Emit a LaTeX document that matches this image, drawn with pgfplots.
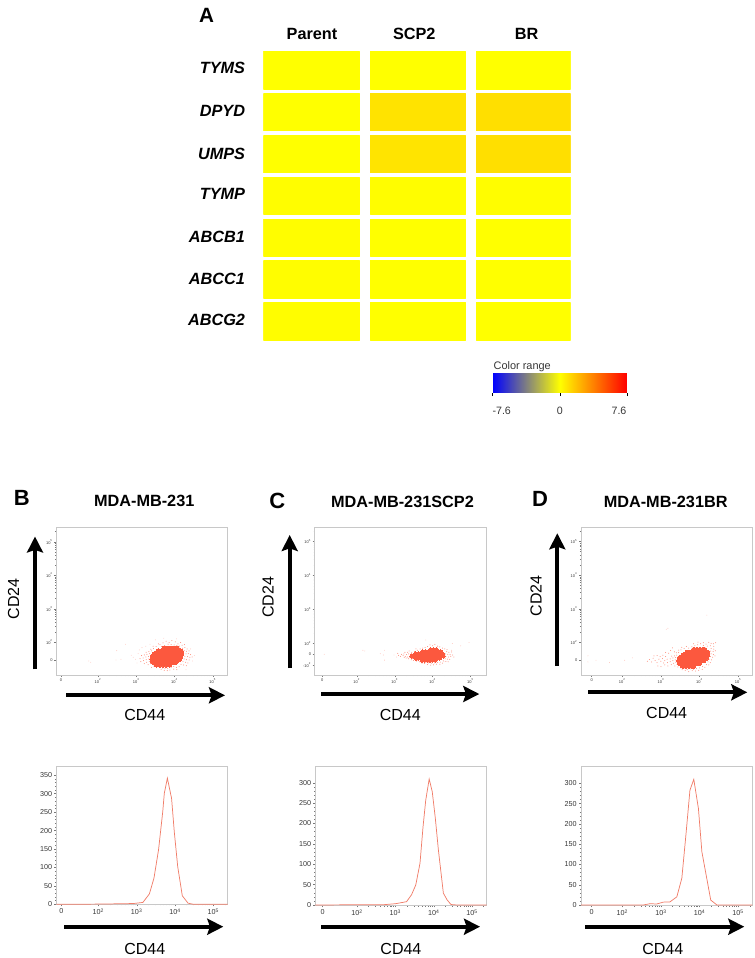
\documentclass[border=0pt]{standalone}
\usepackage{fontspec}
\setmainfont{Liberation Sans}
\usepackage{pgfplots}
\pgfplotsset{compat=1.18}
\usetikzlibrary{arrows.meta}

\definecolor{boxgray}{RGB}{200,200,200}
\definecolor{tickgray}{RGB}{120,120,120}
\definecolor{labgray}{RGB}{55,55,55}
\definecolor{cloud}{RGB}{252,88,62}
\definecolor{histline}{RGB}{240,125,105}

% reference pixels -> pt (1 px = 0.75 pt), y downwards
\tikzset{letter/.style 2 args={at={({#1*0.75pt},{-#2*0.75pt})},font=\bfseries\fontsize{16.5}{18}\selectfont}}
\newcommand\bigarrow[4]{\draw[line width=2.9pt,-{Stealth[length=12pt,width=12pt,inset=2pt]}] ({#1*0.75pt},{-#2*0.75pt}) -- ({#3*0.75pt},{-#4*0.75pt});}

\pgfplotsset{
  pxat/.style 2 args={at={({#1*0.75pt},{-#2*0.75pt})}},
  every axis title shift=0pt,
  panel/.style={
    scale only axis, anchor=north west,
    axis line style={draw=boxgray,line width=0.6pt},
    tick style={draw=tickgray,line width=0.25pt},
    tick align=outside, tick pos=lower,
    major tick length=1.5pt, minor tick length=0.9pt,
    title style={font=\bfseries\fontsize{12.2}{14}\selectfont,anchor=center},
    label style={font=\fontsize{12}{14}\selectfont},
    minor xtick={2.3,2.48,2.6,2.7,2.78,2.85,2.9,2.95,3.3,3.48,3.6,3.7,3.78,3.85,3.9,3.95,4.3,4.48,4.6,4.7,4.78,4.85,4.9,4.95,5.3},
    xtick={1,2,3,4,5},
    /pgf/number format/assume math mode=true,
  },
  dotplot/.style={
    panel, width=128.55pt, height=110.8pt,
    tick label style={font=\fontsize{3}{3}\selectfont,text=labgray,inner sep=1pt},
    minor ytick={2.3,2.48,2.6,2.7,2.78,2.85,2.9,2.95,3.3,3.48,3.6,3.7,3.78,3.85,3.9,3.95,4.3,4.48,4.6,4.7,4.78,4.85,4.9,4.95,5.3},
    xticklabels={0,10\textsuperscript{2},10\textsuperscript{3},10\textsuperscript{4},10\textsuperscript{5}},
    xlabel={CD44}, ylabel={CD24},
  },
  histplot/.style={
    panel, width=128.55pt,
    tick label style={font=\fontsize{5.4}{6}\selectfont,text=labgray,inner sep=1.5pt},
    ytick={0,50,...,350}, minor y tick num=4,
    xticklabels={0,10\textsuperscript{2},10\textsuperscript{3},10\textsuperscript{4},10\textsuperscript{5}},
    xlabel={CD44},
  },
  core/.style={cloud,only marks,mark=*,mark size=1.8pt,mark options={line width=0pt}},
  halo/.style={cloud,only marks,mark=*,mark size=0.38pt,mark options={line width=0pt,fill opacity=0.7,draw opacity=0}},
  stray/.style={cloud,only marks,mark=*,mark size=0.32pt,mark options={line width=0pt,fill opacity=0.4,draw opacity=0}},
  curve/.style={histline,line width=0.55pt,no marks},
}

\begin{document}
\begin{tikzpicture}
\path[use as bounding box] (0,0) rectangle (566.25pt,-718.5pt);

% ---- A: heat map
\node[letter={206.7}{15},font=\bfseries\fontsize{15.5}{17}\selectfont] {A};
\begin{axis}[
  scale only axis, anchor=north west, pxat={263.3}{51},
  width=230.55pt, height=216.75pt,
  xmin=263.3, xmax=570.7, ymin=51, ymax=340, y dir=reverse,
  axis line style={draw=none}, major tick length=0pt,
  xtick={312,414.3,526.7}, xticklabels={Parent,SCP2,BR},
  ytick={68.3,111,154.3,194,237.3,278.7,320.3},
  yticklabels={TYMS,DPYD,UMPS,TYMP,ABCB1,ABCC1,ABCG2},
  xticklabel pos=upper,
  xticklabel style={font=\bfseries\fontsize{12.2}{14}\selectfont,inner sep=0pt,text height=8.8pt,text depth=0pt,yshift=8.6pt},
  yticklabel style={font=\bfseries\itshape\fontsize{12.2}{14}\selectfont,inner sep=0pt,xshift=-13.5pt},
  point meta min=-7.6, point meta max=7.6,
  colormap={range}{rgb255=(0,0,255) rgb255=(128,128,128) rgb255=(255,255,0) rgb255=(255,128,0) rgb255=(255,0,0)},
  colorbar horizontal,
  colorbar style={
    scale only axis, at={(0.7463,-0.1142)}, anchor=north west,
    width=100.7pt, height=14.8pt,
    xtick={-7.6,0,7.6},
    xticklabels={\hspace*{13.5pt}-7.6,0,7.6\hspace*{12pt}},
    axis line style={draw=none},
    xtick style={draw=black,line width=0.5pt}, major tick length=2.6pt,
    tick align=outside, tick pos=lower,
    xticklabel style={font=\fontsize{8}{9}\selectfont,text=labgray,inner sep=0pt,yshift=-8pt},
    title={Color range},
    title style={at={(0,1)},anchor=south west,inner sep=0.5pt,font=\fontsize{8.2}{9}\selectfont,text=labgray},
  },
]
\addplot[patch,patch type=rectangle,shader=flat,point meta=explicit] table[meta=v] {
x y v
263.3 51 0
359 51 0
359 89.3 0
263.3 89.3 0
370 51 0
465.3 51 0
465.3 89.3 0
370 89.3 0
476 51 0
570.7 51 0
570.7 89.3 0
476 89.3 0
263.3 93.7 0
359 93.7 0
359 130.7 0
263.3 130.7 0
370 93.7 0.85
465.3 93.7 0.85
465.3 130.7 0.85
370 130.7 0.85
476 93.7 0.95
570.7 93.7 0.95
570.7 130.7 0.95
476 130.7 0.95
263.3 135.7 0
359 135.7 0
359 172.7 0
263.3 172.7 0
370 135.7 0.8
465.3 135.7 0.8
465.3 172.7 0.8
370 172.7 0.8
476 135.7 0.95
570.7 135.7 0.95
570.7 172.7 0.95
476 172.7 0.95
263.3 177.3 0.05
359 177.3 0.05
359 214 0.05
263.3 214 0.05
370 177.3 0.05
465.3 177.3 0.05
465.3 214 0.05
370 214 0.05
476 177.3 0.05
570.7 177.3 0.05
570.7 214 0.05
476 214 0.05
263.3 219.3 0.05
359 219.3 0.05
359 256 0.05
263.3 256 0.05
370 219.3 0
465.3 219.3 0
465.3 256 0
370 256 0
476 219.3 0
570.7 219.3 0
570.7 256 0
476 256 0
263.3 260.7 0.05
359 260.7 0.05
359 298.3 0.05
263.3 298.3 0.05
370 260.7 0
465.3 260.7 0
465.3 298.3 0
370 298.3 0
476 260.7 0
570.7 260.7 0
570.7 298.3 0
476 298.3 0
263.3 302.7 0.05
359 302.7 0.05
359 340 0.05
263.3 340 0.05
370 302.7 0
465.3 302.7 0
465.3 340 0
370 340 0
476 302.7 0
570.7 302.7 0
570.7 340 0
476 340 0
};
\end{axis}

% ---- B: dot plot
\node[letter={21.7}{498.3}] {B};
\begin{axis}[dotplot, pxat={56.3}{527.3},
  xmin=0.91, xmax=5.39, ymin=1.02, ymax=5.43,
  xtick={1.03,2,3,4,5},
  ytick={1.46,2,3,4,5}, yticklabels={0,10\textsuperscript{2},10\textsuperscript{3},10\textsuperscript{4},10\textsuperscript{5}},
  title={MDA-MB-231}, title style={at={(0.513,1.176)}},
  xlabel style={at={(axis description cs:0.516,-0.271)},anchor=center},
  ylabel style={at={(axis description cs:-0.2485,0.515)},anchor=center},
]
\addplot[core] coordinates {
(3.73,1.81)(3.82,1.81)(3.90,1.81)(3.98,1.81)(4.07,1.81)
(3.57,1.73)(3.66,1.73)(3.75,1.73)(3.84,1.73)(3.93,1.73)(4.02,1.73)(4.11,1.73)(4.16,1.73)
(3.48,1.65)(3.57,1.65)(3.66,1.65)(3.75,1.65)(3.84,1.65)(3.93,1.65)(4.02,1.65)(4.11,1.65)(4.18,1.65)
(3.43,1.57)(3.52,1.57)(3.61,1.57)(3.70,1.57)(3.79,1.57)(3.88,1.57)(3.97,1.57)(4.06,1.57)(4.15,1.57)
(3.42,1.49)(3.51,1.49)(3.60,1.49)(3.69,1.49)(3.78,1.49)(3.87,1.49)(3.96,1.49)(4.05,1.49)(4.12,1.49)
(3.44,1.41)(3.53,1.41)(3.62,1.41)(3.71,1.41)(3.80,1.41)(3.89,1.41)(3.98,1.41)(4.03,1.41)
(3.53,1.33)(3.62,1.33)(3.70,1.33)(3.78,1.33)(3.87,1.33)
};
\addplot[halo] coordinates {
(3.62,1.93)(3.70,1.98)(3.78,2.03)(3.86,1.99)(3.93,2.05)(4.02,2.01)(4.09,1.95)(4.16,1.99)(3.66,1.87)(3.74,1.90)(3.83,1.94)(3.91,1.93)(3.99,1.92)(4.06,1.90)(4.13,1.88)(4.20,1.91)(4.26,1.93)
(4.21,1.82)(4.27,1.84)(4.33,1.80)(4.25,1.75)(4.31,1.73)(4.38,1.74)(4.24,1.67)(4.30,1.65)(4.36,1.66)(4.42,1.63)(4.27,1.58)(4.34,1.57)(4.40,1.55)(4.46,1.56)(4.25,1.50)(4.31,1.48)(4.38,1.47)(4.22,1.42)(4.29,1.40)(4.35,1.38)(4.17,1.34)(4.24,1.32)(4.31,1.30)
(3.98,1.28)(4.05,1.25)(4.12,1.27)(3.91,1.24)(3.98,1.20)(4.06,1.18)(3.82,1.22)(3.88,1.17)(3.75,1.21)(3.81,1.15)(3.68,1.23)(3.73,1.16)(3.60,1.26)(3.65,1.19)(3.53,1.24)(3.46,1.29)(3.40,1.25)
(3.37,1.36)(3.31,1.33)(3.34,1.43)(3.27,1.40)(3.21,1.36)(3.33,1.50)(3.26,1.48)(3.19,1.45)(3.12,1.42)(3.32,1.58)(3.25,1.56)(3.18,1.53)(3.10,1.51)(3.35,1.66)(3.28,1.64)(3.21,1.62)(3.14,1.60)(3.40,1.74)(3.33,1.72)(3.26,1.70)(3.45,1.81)(3.38,1.79)(3.52,1.87)(3.44,1.88)(3.58,1.95)
};
\addplot[stray] coordinates {
(3.05,1.66)(2.98,1.49)(3.02,1.38)(2.92,1.55)(2.87,1.61)(3.08,1.77)(3.15,1.84)(3.25,1.88)(3.36,1.94)(3.50,2.07)(3.72,2.12)(4.05,2.10)(4.42,1.80)(4.52,1.60)(4.47,1.44)(4.30,1.18)
(2.72,1.94)(2.49,1.75)(2.60,1.49)(2.47,1.47)(1.76,1.44)(1.81,1.40)
};
\end{axis}
\bigarrow{35}{669.3}{35}{536.5}
\bigarrow{66}{695.3}{225}{695.3}

% ---- C: dot plot
\node[letter={277.3}{500.7}] {C};
\begin{axis}[dotplot, pxat={314.7}{527.3},
  xmin=0.89, xmax=5.41, ymin=1.07, ymax=5.42,
  xtick={1.09,2,3,4,5},
  ytick={1.36,1.675,2,3,4,5}, yticklabels={-10\textsuperscript{2},0,10\textsuperscript{2},10\textsuperscript{3},10\textsuperscript{4},10\textsuperscript{5}},
  title={MDA-MB-231SCP2}, title style={at={(0.512,1.17)}},
  xlabel style={at={(axis description cs:0.4995,-0.271)},anchor=center},
  ylabel style={at={(axis description cs:-0.2725,0.526)},anchor=center},
]
\addplot[core,mark size=1.5pt] coordinates {
(3.95,1.81)(4.02,1.81)(4.09,1.81)
(3.74,1.75)(3.81,1.75)(3.88,1.75)(3.95,1.75)(4.02,1.75)(4.09,1.75)(4.16,1.75)(4.22,1.75)
(3.56,1.69)(3.63,1.69)(3.70,1.69)(3.77,1.69)(3.84,1.69)(3.91,1.69)(3.98,1.69)(4.05,1.69)(4.12,1.69)(4.19,1.69)(4.26,1.69)
(3.45,1.63)(3.52,1.63)(3.59,1.63)(3.66,1.63)(3.73,1.63)(3.80,1.63)(3.87,1.63)(3.94,1.63)(4.01,1.63)(4.08,1.63)(4.15,1.63)(4.22,1.63)(4.28,1.63)
(3.56,1.57)(3.63,1.57)(3.70,1.57)(3.77,1.57)(3.84,1.57)(3.91,1.57)(3.98,1.57)(4.05,1.57)(4.12,1.57)(4.19,1.57)
(3.72,1.51)(3.79,1.51)(3.86,1.51)(3.93,1.51)(4.00,1.51)(4.07,1.51)
};
\addplot[halo] coordinates {
(3.60,1.80)(3.67,1.84)(3.74,1.86)(3.80,1.88)(3.87,1.91)(3.93,1.96)(4.00,1.93)(4.06,1.97)(4.13,1.92)(4.19,1.90)(4.26,1.86)(4.32,1.84)(4.38,1.82)(3.52,1.76)(3.45,1.74)(3.38,1.78)(3.56,1.84)
(4.37,1.76)(4.43,1.74)(4.50,1.75)(4.34,1.69)(4.40,1.68)(4.46,1.67)(4.53,1.66)(4.35,1.61)(4.42,1.60)(4.48,1.62)(4.56,1.60)(4.33,1.55)(4.39,1.54)(4.45,1.53)(4.28,1.49)(4.35,1.47)(4.41,1.46)
(4.20,1.45)(4.26,1.42)(4.13,1.44)(4.19,1.39)(4.05,1.43)(4.10,1.39)(3.97,1.42)(4.02,1.37)(3.89,1.43)(3.95,1.36)(3.82,1.44)(3.86,1.38)(3.75,1.46)(3.79,1.41)(3.68,1.49)(3.72,1.42)(3.61,1.51)(3.65,1.46)(3.54,1.53)(3.58,1.48)(3.47,1.56)(3.50,1.50)
(3.40,1.58)(3.44,1.52)(3.34,1.60)(3.36,1.55)(3.28,1.62)(3.30,1.57)(3.22,1.64)(3.25,1.59)(3.31,1.67)(3.37,1.69)(3.44,1.70)(3.24,1.69)(3.18,1.68)(3.15,1.62)(3.10,1.65)(3.08,1.71)(3.27,1.74)(3.34,1.74)
};
\addplot[stray] coordinates {
(3.05,1.60)(2.98,1.66)(2.73,1.80)(2.70,1.66)(2.62,1.70)(2.16,1.80)(2.21,1.78)(1.14,1.68)(4.96,2.03)(4.74,1.93)(4.52,2.00)(4.50,1.80)(4.30,1.46)(2.73,1.51)(3.82,2.10)
};
\end{axis}
\bigarrow{289.7}{668}{289.7}{535}
\bigarrow{321}{694}{479.3}{694}

% ---- D: dot plot
\node[letter={540}{499}] {D};
\begin{axis}[dotplot, pxat={581}{527.3},
  xmin=0.93, xmax=5.37, ymin=1.03, ymax=5.42,
  xtick={1.205,2,3,4,5},
  ytick={1.47,2,3,4,5}, yticklabels={0,10\textsuperscript{2},10\textsuperscript{3},10\textsuperscript{4},10\textsuperscript{5}},
  title={MDA-MB-231BR}, title style={at={(0.494,1.17)}},
  xlabel style={at={(axis description cs:0.5,-0.26)},anchor=center},
  ylabel style={at={(axis description cs:-0.2614,0.536)},anchor=center},
]
\addplot[core] coordinates {
(3.85,1.78)(3.93,1.78)(4.01,1.78)(4.09,1.78)(4.13,1.78)
(3.68,1.70)(3.77,1.70)(3.86,1.70)(3.95,1.70)(4.04,1.70)(4.13,1.70)(4.20,1.70)
(3.58,1.62)(3.67,1.62)(3.76,1.62)(3.85,1.62)(3.94,1.62)(4.03,1.62)(4.12,1.62)(4.20,1.62)
(3.49,1.54)(3.58,1.54)(3.67,1.54)(3.76,1.54)(3.85,1.54)(3.94,1.54)(4.03,1.54)(4.12,1.54)(4.18,1.54)
(3.47,1.46)(3.56,1.46)(3.65,1.46)(3.74,1.46)(3.83,1.46)(3.92,1.46)(4.01,1.46)(4.10,1.46)
(3.49,1.38)(3.58,1.38)(3.67,1.38)(3.76,1.38)(3.85,1.38)(3.94,1.38)(3.99,1.38)
(3.57,1.30)(3.65,1.30)(3.73,1.30)(3.81,1.30)(3.84,1.30)
};
\addplot[halo] coordinates {
(3.80,1.87)(3.88,1.90)(3.95,1.93)(4.03,1.96)(4.10,1.99)(4.17,1.95)(4.24,2.00)(4.30,1.97)(3.72,1.83)(3.85,1.96)(3.96,2.01)(4.10,1.91)(4.20,1.89)(4.28,1.90)(4.36,1.96)(4.42,1.99)(4.37,1.88)
(4.30,1.82)(4.37,1.80)(4.29,1.74)(4.35,1.73)(4.41,1.75)(4.30,1.66)(4.36,1.64)(4.28,1.58)(4.34,1.56)(4.40,1.60)(4.25,1.50)(4.31,1.48)(4.22,1.42)(4.28,1.40)(4.18,1.34)(4.24,1.33)
(4.08,1.28)(4.14,1.26)(4.00,1.24)(4.07,1.20)(3.92,1.22)(3.98,1.17)(3.84,1.20)(3.90,1.15)(3.76,1.21)(3.81,1.16)(3.68,1.19)(3.72,1.13)(3.60,1.22)(3.63,1.17)(3.52,1.24)(3.55,1.19)(3.44,1.27)
(3.42,1.34)(3.36,1.30)(3.39,1.41)(3.33,1.38)(3.27,1.34)(3.37,1.48)(3.31,1.46)(3.24,1.43)(3.17,1.40)(3.38,1.55)(3.31,1.54)(3.24,1.51)(3.16,1.50)(3.41,1.62)(3.35,1.60)(3.28,1.59)(3.46,1.70)(3.40,1.69)(3.52,1.78)(3.46,1.77)(3.60,1.82)(3.54,1.85)(3.66,1.88)
(3.10,1.46)(3.04,1.52)(3.07,1.39)(3.00,1.44)(2.95,1.50)(2.90,1.40)(2.85,1.46)(2.80,1.53)(2.76,1.42)(2.70,1.49)(2.65,1.44)(3.12,1.58)(3.05,1.62)(2.98,1.58)(2.90,1.61)(2.82,1.60)(3.20,1.68)(3.12,1.70)(3.25,1.76)(3.18,1.30)(3.10,1.33)(3.00,1.28)(2.92,1.30)(3.30,1.84)(3.35,1.72)
};
\addplot[stray] coordinates {
(3.14,2.39)(3.18,2.42)(4.19,2.81)(2.26,1.54)(2.06,1.47)(1.67,1.40)(1.32,1.47)(1.11,1.60)(1.11,1.42)
};
\end{axis}
\bigarrow{557.3}{666}{557.3}{533.3}
\bigarrow{588.3}{692.3}{747.3}{692.3}

% ---- histograms
\begin{axis}[histplot, pxat={56.3}{766}, height=103.7pt,
  xmin=0.90, xmax=5.375, ymin=0, ymax=375,
  xtick={1.03,2,3,4,5},
  xlabel style={at={(axis description cs:0.516,-0.3215)},anchor=center},
]
\addplot[curve] coordinates {
(0.90,0)(2.04,0.5)(2.91,2)(3.16,5)(3.33,28)(3.45,71)(3.57,148)(3.68,252)(3.72,301)(3.80,342)(3.91,287)(3.98,197)(4.07,102)(4.19,23)(4.34,3)(4.48,0)(5.375,0)
};
\end{axis}
\bigarrow{64.3}{926.7}{223.3}{926.7}

\begin{axis}[histplot, pxat={315.3}{766}, height=104.5pt,
  xmin=0.91, xmax=5.38, ymin=-1, ymax=341,
  xtick={1.10,2,3,4,5}, ytick={0,50,...,300},
  xlabel style={at={(axis description cs:0.4995,-0.3115)},anchor=center},
]
\addplot[curve] coordinates {
(0.91,0)(2.68,0.5)(3.0,3)(3.29,8)(3.42,25)(3.53,49)(3.64,102)(3.72,192)(3.79,257)(3.88,309)(3.96,278)(4.04,213)(4.12,135)(4.25,29)(4.35,12)(4.45,1)(4.59,0)(5.38,0)
};
\end{axis}
\bigarrow{321}{926.7}{480}{926.7}

\begin{axis}[histplot, pxat={581}{766.7}, height=104pt,
  xmin=0.925, xmax=5.37, ymin=-1, ymax=341,
  xtick={1.2,2,3,4,5}, ytick={0,50,...,300},
  xlabel style={at={(axis description cs:0.4773,-0.3145)},anchor=center},
]
\addplot[curve] coordinates {
(0.925,0)(2.54,0)(2.71,3)(2.89,2.5)(3.06,7)(3.23,7.5)(3.41,20)(3.54,66)(3.65,177)(3.75,283)(3.85,310)(3.97,238)(4.06,131)(4.17,74)(4.29,12)(4.45,0)(5.37,0)
};
\end{axis}
\bigarrow{585}{926.7}{744.3}{926.7}
\end{tikzpicture}
\end{document}
